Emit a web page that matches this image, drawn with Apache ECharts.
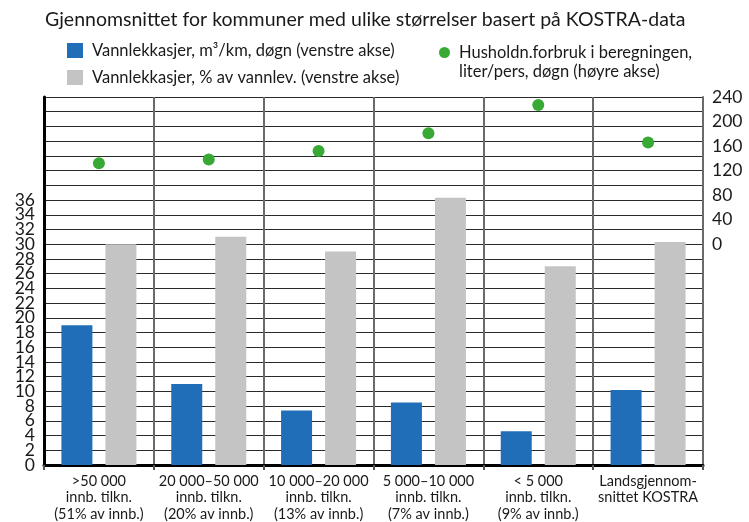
<!DOCTYPE html>
<html>
<head>
<meta charset="utf-8">
<title></title>
<script src="https://cdn.jsdelivr.net/npm/echarts@6/dist/echarts.min.js"></script>
</head>
<body style="padding:0;margin:0;background:#fff;">
<div id="main" style="width:749px;height:522px;"></div>
<script type="text/javascript">
// kategorier (kommunestørrelse)
var kategorier = [
    '>50 000\ninnb. tilkn.\n(51% av innb.)',
    '20 000–50 000\ninnb. tilkn.\n(20% av innb.)',
    '10 000–20 000\ninnb. tilkn.\n(13% av innb.)',
    '5 000–10 000\ninnb. tilkn.\n(7% av innb.)',
    '< 5 000\ninnb. tilkn.\n(9% av innb.)',
    'Landsgjennom-\nsnittet KOSTRA'
];
// m3/km, døgn (venstre akse)
var lekkasjeKm = [19, 11, 7.4, 8.5, 4.6, 10.2];
// % av vannlev. (venstre akse)
var lekkasjeProsent = [30, 31, 29, 36.3, 27, 30.3];
// liter/pers, døgn (høyre akse)
var husholdForbruk = [132, 138, 152, 181, 227, 166];

var navnBla = 'Vannlekkasjer, m³/km, døgn (venstre akse)';
var navnGra = 'Vannlekkasjer, % av vannlev. (venstre akse)';
var navnGronn = 'Husholdn.forbruk i beregningen,';

var font = 'Lato';
var myChart = echarts.init(document.getElementById('main'));

var venstreLabel = { fontFamily: font, fontSize: 17.5, color: '#1a1a1a' };

var option = {
    animation: false,
    title: {
        text: 'Gjennomsnittet for kommuner med ulike størrelser basert på KOSTRA-data',
        left: 40,
        top: 5,
        textStyle: { fontFamily: font, fontSize: 19.5, fontWeight: 'normal', color: '#1a1a1a' }
    },
    legend: [{
        data: [navnBla, navnGra],
        orient: 'vertical',
        left: 62,
        top: 37,
        itemWidth: 16,
        itemHeight: 15,
        itemGap: 10,
        icon: 'rect',
        textStyle: { fontFamily: font, fontSize: 16.5, color: '#1a1a1a', padding: [0, 0, 0, 4] }
    }, {
        data: [navnGronn],
        left: 434,
        top: 39,
        itemWidth: 11,
        itemHeight: 11,
        icon: 'circle',
        textStyle: { fontFamily: font, fontSize: 16.5, color: '#1a1a1a', padding: [0, 0, 0, 4] }
    }],
    graphic: [{
        type: 'text',
        left: 459,
        top: 63,
        style: { text: 'liter/pers, døgn (høyre akse)', font: '16.5px ' + font, fill: '#1a1a1a' }
    }],
    grid: { left: 44, right: 46, top: 97, bottom: 57, containLabel: false, outerBoundsMode: 'none' },
    xAxis: {
        type: 'category',
        data: kategorier,
        axisLine: { lineStyle: { color: '#000', width: 3 } },
        axisTick: { show: true, length: 5, interval: 0, lineStyle: { color: '#555', width: 2 } },
        splitLine: { show: true, interval: 0, lineStyle: { color: '#6a6a6a', width: 2 } },
        axisLabel: { interval: 0, margin: 8, fontFamily: font, fontSize: 14.5, lineHeight: 16.5, color: '#1a1a1a' }
    },
    yAxis: [{
        type: 'value',
        min: 0,
        max: 50,
        interval: 2,
        axisLine: { show: true, lineStyle: { color: '#000', width: 3 } },
        axisTick: { show: false },
        splitLine: { lineStyle: { color: '#2a2a2a', width: 1 } },
        axisLabel: Object.assign({
            margin: 9,
            showMinLabel: false,
            hideOverlap: false,
            formatter: function (v) { return v > 0 && v <= 36 ? v : ''; }
        }, venstreLabel)
    }, {
        type: 'value',
        min: -360,
        max: 240,
        interval: 40,
        position: 'right',
        axisLine: { show: true, lineStyle: { color: '#6a6a6a', width: 2 } },
        axisTick: { show: false },
        splitLine: { show: false },
        axisLabel: {
            margin: 9,
            showMaxLabel: true,
            hideOverlap: false,
            fontFamily: font, fontSize: 17.5, color: '#1a1a1a',
            formatter: function (v) { return v >= 0 ? v : ''; }
        }
    }, {
        // bare nullpunktet på venstre akse
        type: 'value',
        min: 0,
        max: 50,
        interval: 2,
        position: 'left',
        axisLine: { show: false },
        axisTick: { show: false },
        splitLine: { show: false },
        axisLabel: Object.assign({
            margin: 9,
            showMinLabel: true,
            hideOverlap: false,
            formatter: function (v) { return v === 0 ? '0' : ''; }
        }, venstreLabel)
    }],
    series: [{
        name: navnBla,
        type: 'bar',
        data: lekkasjeKm,
        barWidth: 31,
        barGap: '42%',
        itemStyle: { color: '#1f6eb7' }
    }, {
        name: navnGra,
        type: 'bar',
        data: lekkasjeProsent,
        barWidth: 31,
        itemStyle: { color: '#c4c4c4' }
    }, {
        name: navnGronn,
        type: 'scatter',
        yAxisIndex: 1,
        data: husholdForbruk,
        symbolSize: 12,
        itemStyle: { color: '#38a935', opacity: 1 },
        z: 5
    }]
};
myChart.setOption(option);
</script>
</body>
</html>
